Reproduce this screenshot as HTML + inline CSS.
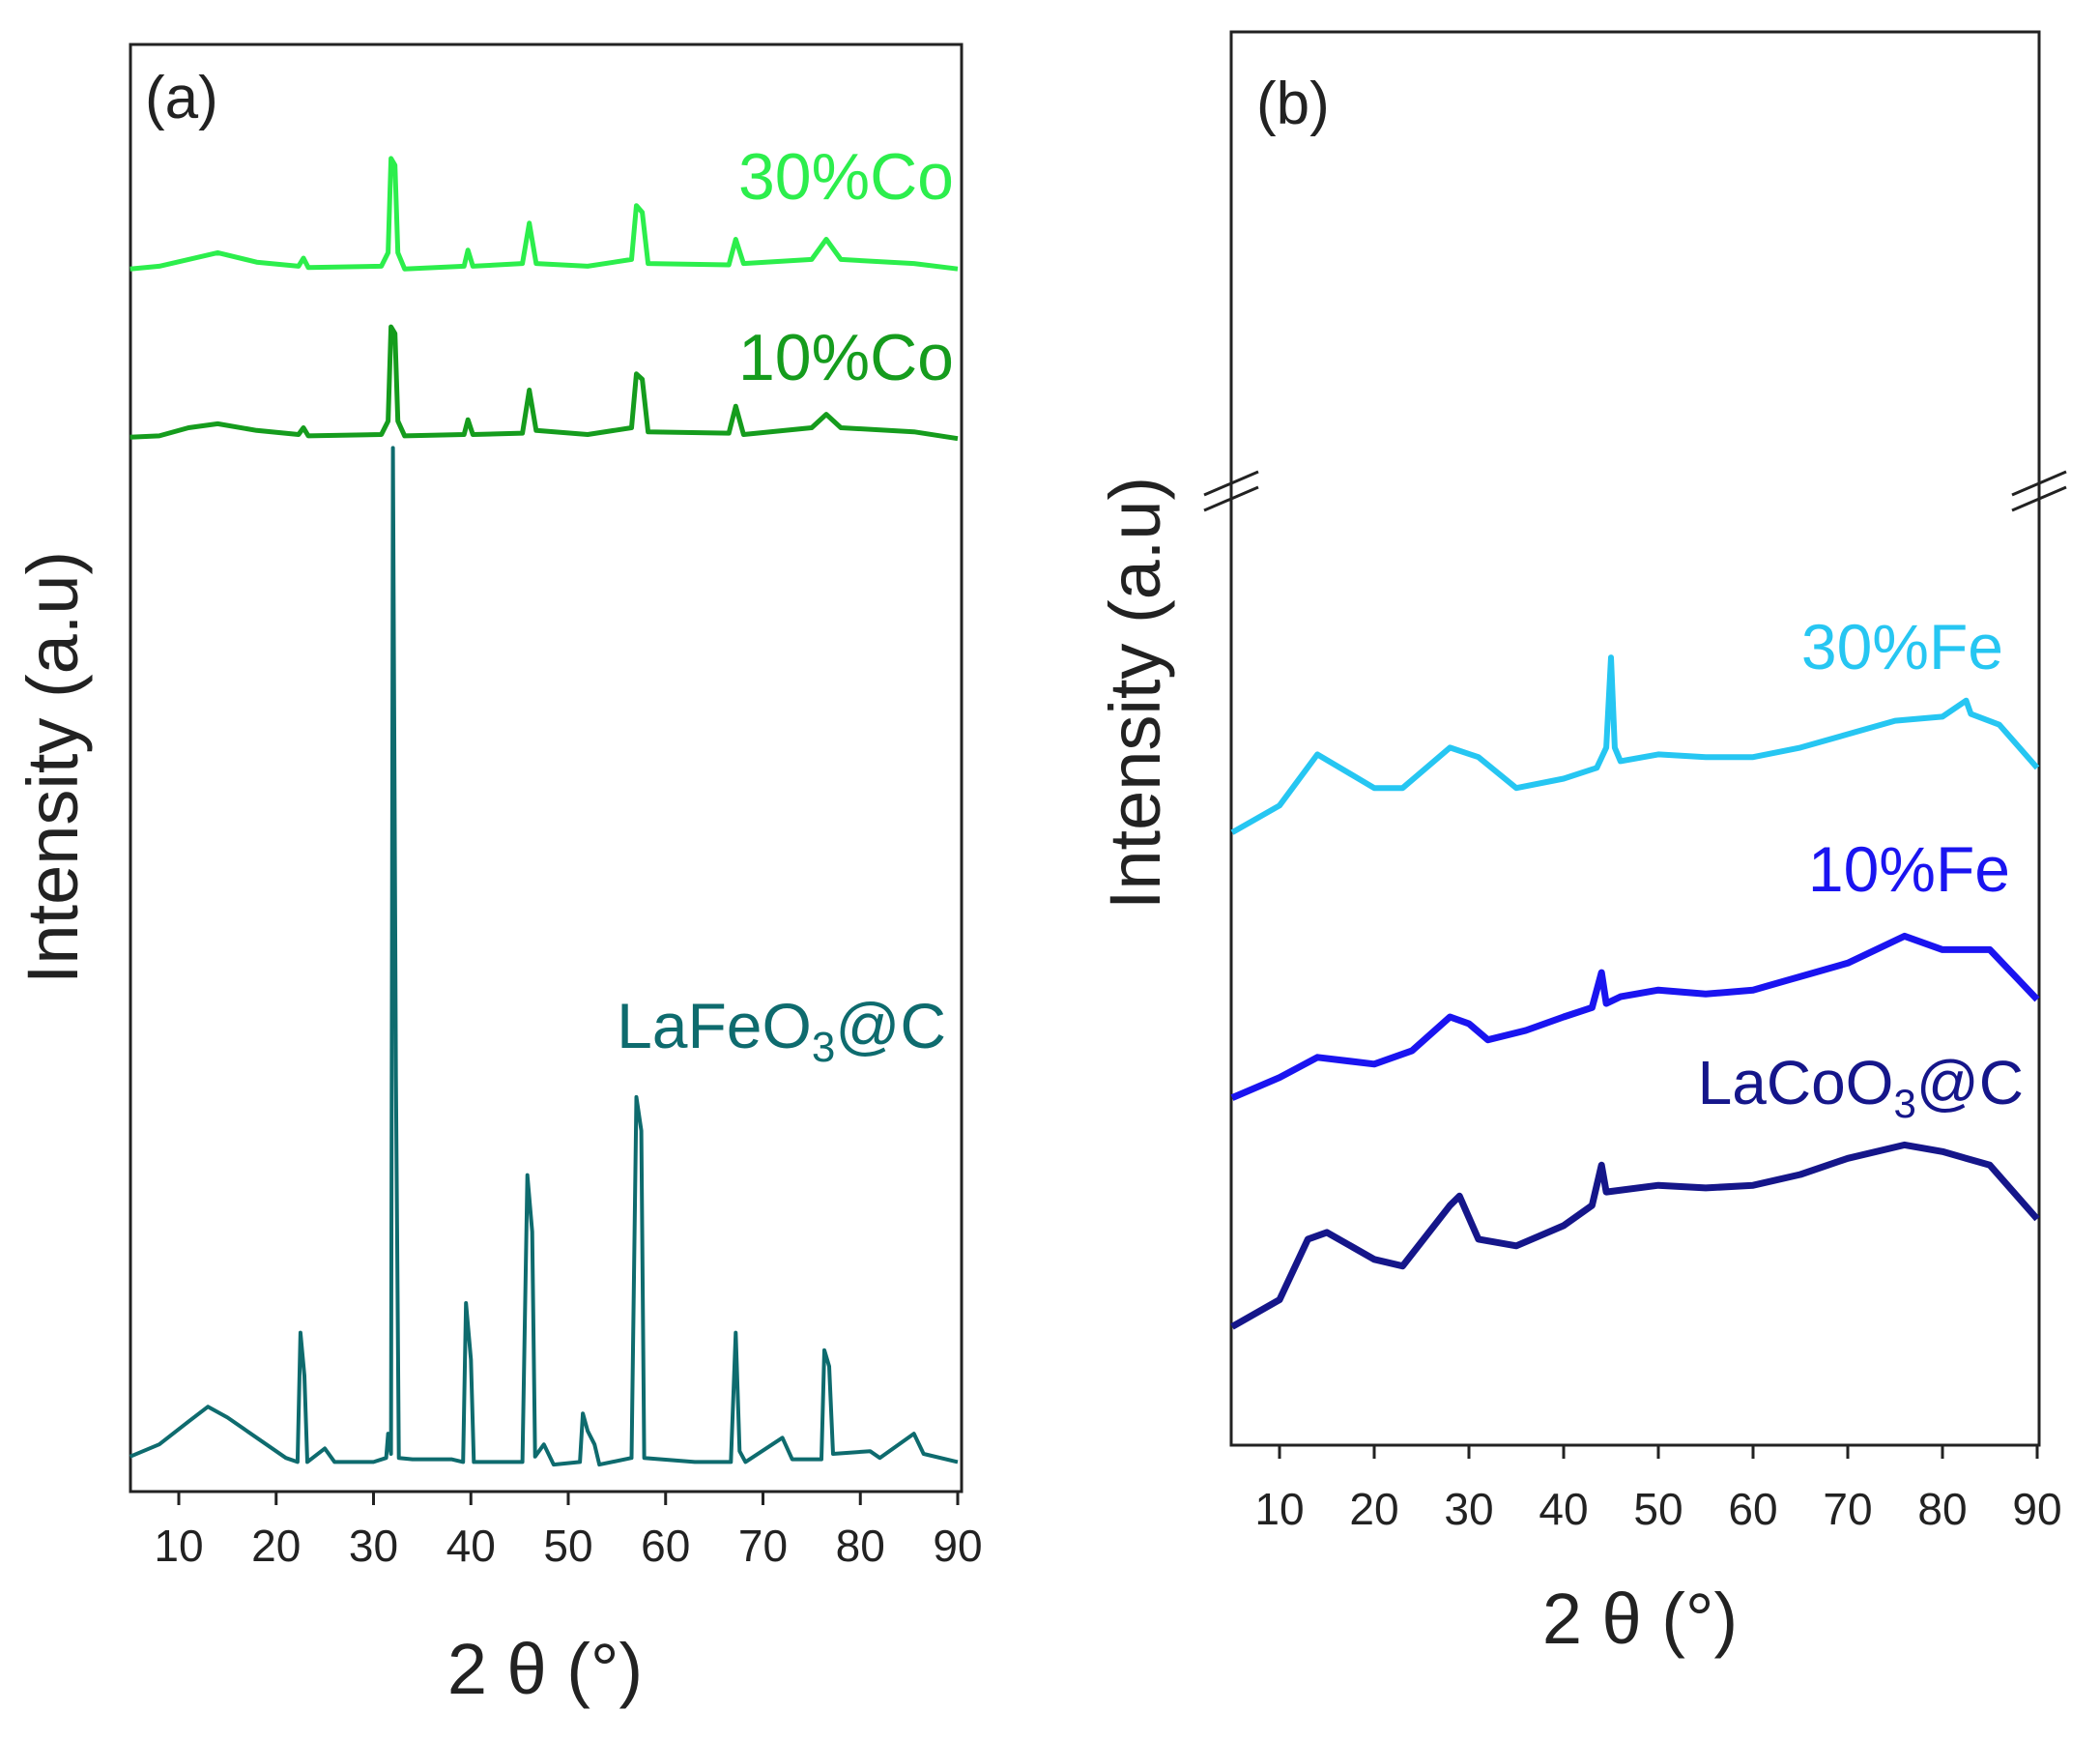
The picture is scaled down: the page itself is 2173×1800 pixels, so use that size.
<!DOCTYPE html>
<html><head><meta charset="utf-8">
<style>
html,body{margin:0;padding:0;background:#fff;}
svg{display:block;font-family:"Liberation Sans",Arial,sans-serif;}
</style></head>
<body>
<svg id="chart" width="2173" height="1800" viewBox="0 0 2173 1800" xmlns="http://www.w3.org/2000/svg">
<g id="panelA"></g>
<g id="panelB"></g>
</svg>
<script>
// ---- Data (angles in degrees 2θ, intensity in arbitrary units) ----
const tickLabels = [10,20,30,40,50,60,70,80,90];

const lafeoAngles = [5,8,11,13,15,18,21,22.2,22.5,22.9,23.2,25,26,30,31.3,31.5,31.8,32.0,32.3,32.6,34,38,39.2,39.5,40,40.3,45.3,45.8,46.3,46.6,47.5,48.5,51.2,51.5,52,52.7,53.2,56.5,57,57.5,57.8,63,66.7,67.2,67.6,68.2,72,73,76,76.3,76.8,77.2,81,82,85.5,86.5,90];
const lafeoValues = [26,35,52,63,55,40,25,22,118,86,22,32,22,22,25,43,28,775,308,25,24,24,22,140,98,22,22,235,193,26,35,20,22,58,45,35,20,25,293,268,25,22,22,118,30,22,40,24,24,105,93,28,30,25,43,28,22];

const co10Angles = [5,8,11,14,18,22.3,22.8,23.3,30.8,31.5,31.8,32.2,32.5,33.2,39.3,39.7,40.2,45.3,46,46.7,52,56.5,57,57.6,58.2,66.5,67.2,68,75,76.5,78,85.5,90];
const co10Values = [783,784,790,793,788,785,790,784,785,795,865,860,795,784,785,796,785,786,818,788,785,790,830,826,787,786,806,785,790,800,790,787,782];

const co30Angles = [5,8,11,14,18,22.3,22.8,23.3,30.8,31.5,31.8,32.2,32.5,33.2,39.3,39.7,40.2,45.3,46,46.7,52,56.5,57,57.6,58.2,66.5,67.2,68,75,76.5,78,85.5,90];
const co30Values = [908,910,915,920,913,910,916,909,910,920,990,985,920,908,910,922,910,912,942,912,910,915,955,950,912,911,930,912,915,930,915,912,908];

const fe30Angles = [5,10,14,20,23,28,31,35,40,43.5,44.5,45,45.4,46,50,55,60,65,70,75,80,82.5,83,86,90];
const fe30Values = [455,475,513,488,488,518,511,488,495,503,518,585,518,508,513,511,511,518,528,538,541,553,543,535,503];

const fe10Angles = [5,10,14,20,24,28,30,32,36,40,43,44,44.5,46,50,55,60,65,70,76,80,85,90];
const fe10Values = [258,273,288,283,293,318,313,301,308,318,325,351,328,333,338,335,338,348,358,378,368,368,331];

const lacoAngles = [5,10,13,15,20,23,28,29,31,35,40,43,44,44.5,50,55,60,65,70,76,80,85,90];
const lacoValues = [88,108,153,158,138,133,178,185,153,148,163,178,208,188,193,191,193,201,213,223,218,208,168];

// ---- Helpers ----
const NS = "http://www.w3.org/2000/svg";
const K = 1.393;
function mk(parent, tag, attrs, text){
  const e = document.createElementNS(NS, tag);
  for (const a in attrs) e.setAttribute(a, attrs[a]);
  if (text !== undefined) e.textContent = text;
  parent.appendChild(e);
  return e;
}

function drawPanel(g, P){
  const xs = v => P.x10 + (v-10)*(P.x90-P.x10)/80;
  const ys = v => P.bottom - v*K;
  const frame = mk(g,'rect',{x:P.left,y:P.top,width:P.right-P.left,height:P.bottom-P.top,fill:'none',stroke:'#222','stroke-width':3});
  
  
  tickLabels.forEach(t=>{
    const x = xs(t);
    const tk = mk(g,'line',{x1:x,y1:P.bottom,x2:x,y2:P.bottom+14,stroke:'#222','stroke-width':3});
    
    
    const lb = mk(g,'text',{x:x,y:P.tickY,'text-anchor':'middle','font-size':46,fill:'#222'},String(t));
    
    
  });
  P.series.forEach(s=>{
    const d = s.angles.map((a,i)=>(i?'L':'M')+xs(a).toFixed(1)+','+ys(s.values[i]).toFixed(1)).join(' ');
    const p = mk(g,'path',{d:d,fill:'none',stroke:s.color,'stroke-width':s.w,'stroke-linejoin':'round'});
    
    
  });
  const xt = mk(g,'text',{x:P.xtX,y:P.xtY,'text-anchor':'middle','font-size':74,fill:'#222'},'2 θ (°)');
  
  
  const yt = mk(g,'text',{x:0,y:0,'text-anchor':'middle','font-size':74,fill:'#222',transform:`translate(${P.ytX},${P.ytY}) rotate(-90)`},'Intensity (a.u)');
  
  
  const pl = mk(g,'text',{x:P.lblX,y:P.lblY,'font-size':62,fill:'#222'},P.label);
  
  
  return xs;
}

const gA = document.getElementById('panelA');
drawPanel(gA,{left:135,right:995,top:46,bottom:1543,x10:185,x90:991,tickY:1615,
  xtX:564,xtY:1752,ytX:80,ytY:794,label:'(a)',lblX:150,lblY:122,
  series:[
    {name:'series-lafeo3',angles:lafeoAngles,values:lafeoValues,color:'#0e6b6e',w:4},
    {name:'series-10co',angles:co10Angles,values:co10Values,color:'#159c1d',w:5},
    {name:'series-30co',angles:co30Angles,values:co30Values,color:'#2cee4c',w:5}
  ]});
[['30%Co',987,206,'#2cee4c','legend-30co'],['10%Co',987,393,'#159c1d','legend-10co']].forEach(l=>{
  const t = mk(gA,'text',{x:l[1],y:l[2],'text-anchor':'end','font-size':68,fill:l[3]},l[0]);
  
  
});
{
  const t = mk(gA,'text',{x:979,y:1084,'text-anchor':'end','font-size':66,fill:'#0e6b6e'});
  
  
  mk(t,'tspan',{},'LaFeO');
  mk(t,'tspan',{'font-size':44,dy:14},'3');
  mk(t,'tspan',{dy:-14},'@C');
}

const gB = document.getElementById('panelB');
drawPanel(gB,{left:1274,right:2110,top:33,bottom:1495,x10:1324,x90:2108,tickY:1577,
  xtX:1697,xtY:1700,ytX:1200,ytY:717,label:'(b)',lblX:1300,lblY:128,
  series:[
    {name:'series-lacoo3',angles:lacoAngles,values:lacoValues,color:'#15168a',w:7},
    {name:'series-10fe',angles:fe10Angles,values:fe10Values,color:'#1a14f0',w:7},
    {name:'series-30fe',angles:fe30Angles,values:fe30Values,color:'#26c6f2',w:6}
  ]});
[['30%Fe',2073,692,'#26c6f2','legend-30fe'],['10%Fe',2080,922,'#1a14f0','legend-10fe']].forEach(l=>{
  const t = mk(gB,'text',{x:l[1],y:l[2],'text-anchor':'end','font-size':66,fill:l[3]},l[0]);
  
  
});
{
  const t = mk(gB,'text',{x:2094,y:1142,'text-anchor':'end','font-size':64,fill:'#15168a'});
  
  
  mk(t,'tspan',{},'LaCoO');
  mk(t,'tspan',{'font-size':42,dy:14},'3');
  mk(t,'tspan',{dy:-14},'@C');
}
[1274,2110].forEach(x=>{
  [-8,8].forEach(o=>{
    const b = mk(gB,'line',{x1:x-28,y1:508+o+12,x2:x+28,y2:508+o-12,stroke:'#222','stroke-width':3});
    
    
  });
});
</script>
</body></html>
